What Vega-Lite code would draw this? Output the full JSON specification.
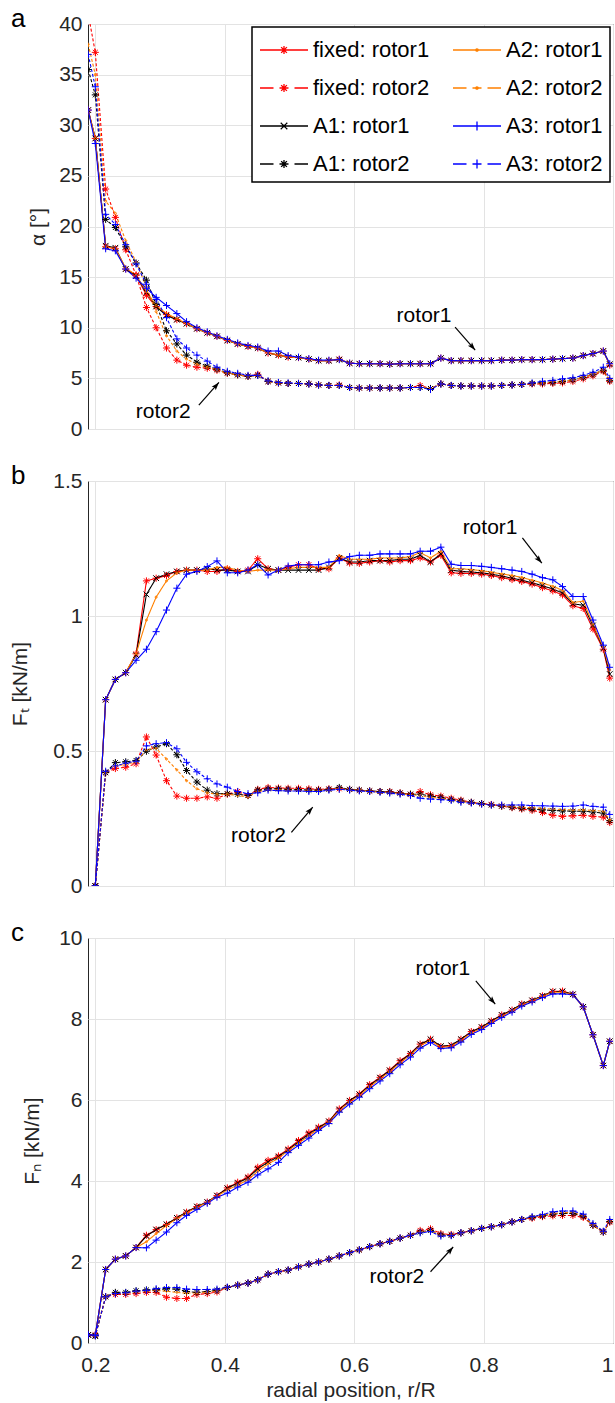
{
"$schema": "https://vega.github.io/schema/vega-lite/v6.json",
"background": "white",
"padding": {"left": 9, "top": 5, "right": 0, "bottom": 0},
"spacing": 22,
"resolve": {"legend": {"color": "independent"}},
"config": {
 "font": "Liberation Sans",
 "view": {"stroke": "#262626", "strokeWidth": 1},
 "axis": {"grid": true, "gridColor": "#e3e3e3", "gridWidth": 1, "domain": false, "ticks": false, "labelFontSize": 21, "titleFontSize": 21, "labelColor": "#262626", "titleColor": "#262626", "titleFontWeight": "normal", "labelPadding": 6, "labelFlush": false, "labelOverlap": false},
 "title": {"fontSize": 26, "fontWeight": "normal", "anchor": "start", "frame": "group", "color": "#000", "offset": -19}
},
"datasets": {
"d": [
{"p":"a","x":0.189,"F1":31.5,"F2":41,"A11":31.5,"A12":35.5,"A21":31.5,"A22":38,"A31":31.5,"A32":37},
{"p":"a","x":0.2,"F1":28.7,"F2":37.2,"A11":28.7,"A12":33,"A21":28.7,"A22":35,"A31":28.2,"A32":33.8},
{"p":"a","x":0.216,"F1":18,"F2":23.7,"A11":18.1,"A12":20.7,"A21":18,"A22":22.5,"A31":17.8,"A32":21.2},
{"p":"a","x":0.231,"F1":17.8,"F2":20.9,"A11":17.9,"A12":19.9,"A21":17.8,"A22":21.3,"A31":17.6,"A32":20.2},
{"p":"a","x":0.247,"F1":15.8,"F2":17.7,"A11":15.8,"A12":18,"A21":15.9,"A22":18.6,"A31":15.8,"A32":18.2},
{"p":"a","x":0.263,"F1":15.2,"F2":15.2,"A11":15.1,"A12":16.4,"A21":15.2,"A22":16.5,"A31":14.9,"A32":16.3},
{"p":"a","x":0.279,"F1":13.2,"F2":12,"A11":13.5,"A12":14.7,"A21":13.6,"A22":14,"A31":13.9,"A32":14.3},
{"p":"a","x":0.294,"F1":12.1,"F2":10,"A11":12.1,"A12":12.3,"A21":12.2,"A22":11.6,"A31":13,"A32":12.8},
{"p":"a","x":0.31,"F1":11.3,"F2":8,"A11":11.2,"A12":9.7,"A21":11.4,"A22":9.2,"A31":12.2,"A32":11},
{"p":"a","x":0.326,"F1":10.8,"F2":6.8,"A11":10.8,"A12":8.4,"A21":10.9,"A22":7.7,"A31":11.4,"A32":8.9},
{"p":"a","x":0.341,"F1":10.4,"F2":6.3,"A11":10.4,"A12":7.3,"A21":10.4,"A22":6.9,"A31":10.6,"A32":8},
{"p":"a","x":0.357,"F1":9.9,"F2":6.1,"A11":9.9,"A12":6.6,"A21":9.9,"A22":6.4,"A31":10,"A32":7.3},
{"p":"a","x":0.373,"F1":9.5,"F2":6,"A11":9.5,"A12":6.2,"A21":9.5,"A22":6.1,"A31":9.6,"A32":6.7},
{"p":"a","x":0.388,"F1":9.15,"F2":5.8,"A11":9.15,"A12":5.9,"A21":9.15,"A22":5.85,"A31":9.2,"A32":6.1},
{"p":"a","x":0.404,"F1":8.75,"F2":5.5,"A11":8.75,"A12":5.55,"A21":8.75,"A22":5.5,"A31":8.85,"A32":5.7},
{"p":"a","x":0.42,"F1":8.4,"F2":5.35,"A11":8.4,"A12":5.35,"A21":8.4,"A22":5.35,"A31":8.5,"A32":5.5},
{"p":"a","x":0.436,"F1":8.15,"F2":5.2,"A11":8.15,"A12":5.2,"A21":8.15,"A22":5.2,"A31":8.25,"A32":5.3},
{"p":"a","x":0.451,"F1":8,"F2":5.4,"A11":8,"A12":5.3,"A21":8,"A22":5.3,"A31":8.1,"A32":5.3},
{"p":"a","x":0.467,"F1":7.5,"F2":4.7,"A11":7.5,"A12":4.7,"A21":7.5,"A22":4.7,"A31":7.7,"A32":4.75},
{"p":"a","x":0.483,"F1":7.3,"F2":4.55,"A11":7.3,"A12":4.55,"A21":7.3,"A22":4.55,"A31":7.7,"A32":4.6},
{"p":"a","x":0.498,"F1":7.1,"F2":4.5,"A11":7.1,"A12":4.5,"A21":7.1,"A22":4.5,"A31":7.25,"A32":4.55},
{"p":"a","x":0.514,"F1":7.05,"F2":4.5,"A11":7.05,"A12":4.5,"A21":7.05,"A22":4.5,"A31":7.1,"A32":4.5},
{"p":"a","x":0.53,"F1":6.9,"F2":4.45,"A11":6.9,"A12":4.45,"A21":6.9,"A22":4.45,"A31":6.95,"A32":4.45},
{"p":"a","x":0.545,"F1":6.75,"F2":4.35,"A11":6.75,"A12":4.35,"A21":6.75,"A22":4.35,"A31":6.8,"A32":4.35},
{"p":"a","x":0.561,"F1":6.75,"F2":4.3,"A11":6.75,"A12":4.3,"A21":6.75,"A22":4.3,"A31":6.8,"A32":4.3},
{"p":"a","x":0.577,"F1":6.9,"F2":4.35,"A11":6.85,"A12":4.3,"A21":6.85,"A22":4.3,"A31":6.85,"A32":4.3},
{"p":"a","x":0.593,"F1":6.5,"F2":4.1,"A11":6.5,"A12":4.1,"A21":6.5,"A22":4.1,"A31":6.5,"A32":4.1},
{"p":"a","x":0.608,"F1":6.45,"F2":4.05,"A11":6.45,"A12":4.05,"A21":6.45,"A22":4.05,"A31":6.45,"A32":4.05},
{"p":"a","x":0.624,"F1":6.45,"F2":4.05,"A11":6.45,"A12":4.05,"A21":6.45,"A22":4.05,"A31":6.45,"A32":4.05},
{"p":"a","x":0.64,"F1":6.45,"F2":4.05,"A11":6.45,"A12":4.05,"A21":6.45,"A22":4.05,"A31":6.45,"A32":4.05},
{"p":"a","x":0.655,"F1":6.4,"F2":4.05,"A11":6.4,"A12":4.05,"A21":6.4,"A22":4.05,"A31":6.4,"A32":4.05},
{"p":"a","x":0.671,"F1":6.45,"F2":4.05,"A11":6.45,"A12":4.05,"A21":6.45,"A22":4.05,"A31":6.45,"A32":4.05},
{"p":"a","x":0.687,"F1":6.45,"F2":4.1,"A11":6.45,"A12":4.1,"A21":6.45,"A22":4.1,"A31":6.45,"A32":4.1},
{"p":"a","x":0.702,"F1":6.45,"F2":4.3,"A11":6.45,"A12":4.1,"A21":6.45,"A22":4.1,"A31":6.45,"A32":4.1},
{"p":"a","x":0.718,"F1":6.45,"F2":4,"A11":6.45,"A12":4,"A21":6.45,"A22":4,"A31":6.45,"A32":3.9},
{"p":"a","x":0.734,"F1":7,"F2":4.45,"A11":7,"A12":4.45,"A21":7,"A22":4.45,"A31":7,"A32":4.45},
{"p":"a","x":0.75,"F1":6.75,"F2":4.3,"A11":6.75,"A12":4.3,"A21":6.75,"A22":4.3,"A31":6.75,"A32":4.3},
{"p":"a","x":0.765,"F1":6.75,"F2":4.25,"A11":6.75,"A12":4.25,"A21":6.75,"A22":4.25,"A31":6.75,"A32":4.25},
{"p":"a","x":0.781,"F1":6.75,"F2":4.25,"A11":6.75,"A12":4.25,"A21":6.75,"A22":4.25,"A31":6.75,"A32":4.25},
{"p":"a","x":0.797,"F1":6.75,"F2":4.25,"A11":6.75,"A12":4.25,"A21":6.75,"A22":4.25,"A31":6.75,"A32":4.25},
{"p":"a","x":0.812,"F1":6.75,"F2":4.25,"A11":6.75,"A12":4.25,"A21":6.75,"A22":4.25,"A31":6.75,"A32":4.25},
{"p":"a","x":0.828,"F1":6.8,"F2":4.3,"A11":6.8,"A12":4.3,"A21":6.8,"A22":4.3,"A31":6.8,"A32":4.3},
{"p":"a","x":0.844,"F1":6.8,"F2":4.35,"A11":6.8,"A12":4.35,"A21":6.8,"A22":4.35,"A31":6.8,"A32":4.35},
{"p":"a","x":0.859,"F1":6.85,"F2":4.4,"A11":6.85,"A12":4.4,"A21":6.85,"A22":4.4,"A31":6.85,"A32":4.4},
{"p":"a","x":0.875,"F1":6.85,"F2":4.45,"A11":6.85,"A12":4.5,"A21":6.85,"A22":4.5,"A31":6.85,"A32":4.55},
{"p":"a","x":0.891,"F1":6.85,"F2":4.45,"A11":6.85,"A12":4.55,"A21":6.85,"A22":4.55,"A31":6.85,"A32":4.7},
{"p":"a","x":0.907,"F1":6.9,"F2":4.5,"A11":6.9,"A12":4.6,"A21":6.9,"A22":4.65,"A31":6.9,"A32":4.8},
{"p":"a","x":0.922,"F1":6.95,"F2":4.55,"A11":6.95,"A12":4.7,"A21":6.95,"A22":4.7,"A31":6.95,"A32":4.95},
{"p":"a","x":0.938,"F1":7,"F2":4.7,"A11":7,"A12":4.85,"A21":7,"A22":4.85,"A31":7,"A32":5.05},
{"p":"a","x":0.954,"F1":7.25,"F2":4.95,"A11":7.25,"A12":5.1,"A21":7.25,"A22":5.1,"A31":7.25,"A32":5.3},
{"p":"a","x":0.969,"F1":7.45,"F2":5.25,"A11":7.45,"A12":5.4,"A21":7.45,"A22":5.4,"A31":7.45,"A32":5.6},
{"p":"a","x":0.985,"F1":7.7,"F2":5.7,"A11":7.7,"A12":5.8,"A21":7.7,"A22":5.8,"A31":7.7,"A32":6.1},
{"p":"a","x":0.995,"F1":6.3,"F2":4.7,"A11":6.4,"A12":4.8,"A21":6.4,"A22":4.8,"A31":6.45,"A32":5},
{"p":"b","x":0.2,"F1":0,"F2":0,"A11":0,"A12":0,"A21":0,"A22":0,"A31":0,"A32":0},
{"p":"b","x":0.216,"F1":0.69,"F2":0.42,"A11":0.69,"A12":0.42,"A21":0.69,"A22":0.42,"A31":0.69,"A32":0.425},
{"p":"b","x":0.231,"F1":0.765,"F2":0.435,"A11":0.765,"A12":0.457,"A21":0.765,"A22":0.445,"A31":0.765,"A32":0.445},
{"p":"b","x":0.247,"F1":0.79,"F2":0.44,"A11":0.79,"A12":0.46,"A21":0.79,"A22":0.45,"A31":0.79,"A32":0.455},
{"p":"b","x":0.263,"F1":0.86,"F2":0.453,"A11":0.855,"A12":0.465,"A21":0.86,"A22":0.46,"A31":0.836,"A32":0.462},
{"p":"b","x":0.279,"F1":1.13,"F2":0.552,"A11":1.08,"A12":0.499,"A21":0.985,"A22":0.505,"A31":0.877,"A32":0.519},
{"p":"b","x":0.294,"F1":1.14,"F2":0.485,"A11":1.14,"A12":0.515,"A21":1.07,"A22":0.51,"A31":0.942,"A32":0.527},
{"p":"b","x":0.31,"F1":1.15,"F2":0.39,"A11":1.155,"A12":0.527,"A21":1.13,"A22":0.47,"A31":1.022,"A32":0.531},
{"p":"b","x":0.326,"F1":1.165,"F2":0.333,"A11":1.165,"A12":0.486,"A21":1.16,"A22":0.43,"A31":1.103,"A32":0.508},
{"p":"b","x":0.341,"F1":1.17,"F2":0.325,"A11":1.17,"A12":0.428,"A21":1.17,"A22":0.39,"A31":1.155,"A32":0.458},
{"p":"b","x":0.357,"F1":1.17,"F2":0.325,"A11":1.17,"A12":0.385,"A21":1.17,"A22":0.36,"A31":1.165,"A32":0.423},
{"p":"b","x":0.373,"F1":1.165,"F2":0.33,"A11":1.175,"A12":0.355,"A21":1.17,"A22":0.345,"A31":1.183,"A32":0.397},
{"p":"b","x":0.388,"F1":1.165,"F2":0.325,"A11":1.17,"A12":0.342,"A21":1.18,"A22":0.34,"A31":1.204,"A32":0.378},
{"p":"b","x":0.404,"F1":1.175,"F2":0.34,"A11":1.17,"A12":0.342,"A21":1.18,"A22":0.34,"A31":1.16,"A32":0.366},
{"p":"b","x":0.42,"F1":1.165,"F2":0.35,"A11":1.165,"A12":0.34,"A21":1.17,"A22":0.335,"A31":1.16,"A32":0.35},
{"p":"b","x":0.436,"F1":1.17,"F2":0.335,"A11":1.165,"A12":0.335,"A21":1.165,"A22":0.33,"A31":1.17,"A32":0.342},
{"p":"b","x":0.451,"F1":1.212,"F2":0.358,"A11":1.19,"A12":0.355,"A21":1.17,"A22":0.35,"A31":1.19,"A32":0.345},
{"p":"b","x":0.467,"F1":1.175,"F2":0.365,"A11":1.175,"A12":0.36,"A21":1.17,"A22":0.355,"A31":1.152,"A32":0.355},
{"p":"b","x":0.483,"F1":1.17,"F2":0.363,"A11":1.17,"A12":0.36,"A21":1.17,"A22":0.356,"A31":1.17,"A32":0.353},
{"p":"b","x":0.498,"F1":1.18,"F2":0.362,"A11":1.17,"A12":0.358,"A21":1.175,"A22":0.355,"A31":1.185,"A32":0.352},
{"p":"b","x":0.514,"F1":1.19,"F2":0.362,"A11":1.17,"A12":0.357,"A21":1.18,"A22":0.355,"A31":1.19,"A32":0.352},
{"p":"b","x":0.53,"F1":1.19,"F2":0.36,"A11":1.17,"A12":0.355,"A21":1.18,"A22":0.353,"A31":1.19,"A32":0.35},
{"p":"b","x":0.545,"F1":1.175,"F2":0.358,"A11":1.17,"A12":0.355,"A21":1.18,"A22":0.352,"A31":1.19,"A32":0.35},
{"p":"b","x":0.561,"F1":1.175,"F2":0.36,"A11":1.18,"A12":0.358,"A21":1.18,"A22":0.356,"A31":1.2,"A32":0.355},
{"p":"b","x":0.577,"F1":1.215,"F2":0.36,"A11":1.215,"A12":0.365,"A21":1.224,"A22":0.362,"A31":1.205,"A32":0.358},
{"p":"b","x":0.593,"F1":1.196,"F2":0.358,"A11":1.2,"A12":0.358,"A21":1.21,"A22":0.356,"A31":1.22,"A32":0.355},
{"p":"b","x":0.608,"F1":1.195,"F2":0.355,"A11":1.2,"A12":0.355,"A21":1.21,"A22":0.355,"A31":1.225,"A32":0.352},
{"p":"b","x":0.624,"F1":1.2,"F2":0.352,"A11":1.205,"A12":0.352,"A21":1.21,"A22":0.35,"A31":1.225,"A32":0.35},
{"p":"b","x":0.64,"F1":1.205,"F2":0.35,"A11":1.205,"A12":0.35,"A21":1.215,"A22":0.348,"A31":1.23,"A32":0.347},
{"p":"b","x":0.655,"F1":1.2,"F2":0.35,"A11":1.205,"A12":0.348,"A21":1.215,"A22":0.346,"A31":1.23,"A32":0.344},
{"p":"b","x":0.671,"F1":1.205,"F2":0.345,"A11":1.21,"A12":0.344,"A21":1.215,"A22":0.342,"A31":1.23,"A32":0.34},
{"p":"b","x":0.687,"F1":1.205,"F2":0.34,"A11":1.21,"A12":0.34,"A21":1.22,"A22":0.338,"A31":1.23,"A32":0.335},
{"p":"b","x":0.702,"F1":1.215,"F2":0.35,"A11":1.225,"A12":0.34,"A21":1.235,"A22":0.335,"A31":1.24,"A32":0.325},
{"p":"b","x":0.718,"F1":1.2,"F2":0.338,"A11":1.2,"A12":0.333,"A21":1.215,"A22":0.328,"A31":1.24,"A32":0.322},
{"p":"b","x":0.734,"F1":1.225,"F2":0.333,"A11":1.23,"A12":0.328,"A21":1.24,"A22":0.325,"A31":1.255,"A32":0.32},
{"p":"b","x":0.75,"F1":1.16,"F2":0.325,"A11":1.17,"A12":0.32,"A21":1.175,"A22":0.318,"A31":1.192,"A32":0.317},
{"p":"b","x":0.765,"F1":1.158,"F2":0.318,"A11":1.165,"A12":0.315,"A21":1.175,"A22":0.313,"A31":1.187,"A32":0.31},
{"p":"b","x":0.781,"F1":1.158,"F2":0.31,"A11":1.163,"A12":0.31,"A21":1.172,"A22":0.308,"A31":1.187,"A32":0.307},
{"p":"b","x":0.797,"F1":1.155,"F2":0.305,"A11":1.16,"A12":0.305,"A21":1.168,"A22":0.304,"A31":1.184,"A32":0.303},
{"p":"b","x":0.812,"F1":1.15,"F2":0.302,"A11":1.155,"A12":0.3,"A21":1.162,"A22":0.3,"A31":1.18,"A32":0.3},
{"p":"b","x":0.828,"F1":1.142,"F2":0.296,"A11":1.148,"A12":0.296,"A21":1.156,"A22":0.297,"A31":1.175,"A32":0.3},
{"p":"b","x":0.844,"F1":1.135,"F2":0.29,"A11":1.14,"A12":0.292,"A21":1.15,"A22":0.294,"A31":1.17,"A32":0.3},
{"p":"b","x":0.859,"F1":1.128,"F2":0.285,"A11":1.133,"A12":0.288,"A21":1.143,"A22":0.291,"A31":1.165,"A32":0.3},
{"p":"b","x":0.875,"F1":1.118,"F2":0.28,"A11":1.123,"A12":0.285,"A21":1.133,"A22":0.29,"A31":1.155,"A32":0.298},
{"p":"b","x":0.891,"F1":1.105,"F2":0.272,"A11":1.112,"A12":0.282,"A21":1.122,"A22":0.287,"A31":1.142,"A32":0.297},
{"p":"b","x":0.907,"F1":1.093,"F2":0.262,"A11":1.1,"A12":0.28,"A21":1.11,"A22":0.285,"A31":1.134,"A32":0.296},
{"p":"b","x":0.922,"F1":1.078,"F2":0.258,"A11":1.085,"A12":0.278,"A21":1.095,"A22":0.283,"A31":1.109,"A32":0.295},
{"p":"b","x":0.938,"F1":1.038,"F2":0.26,"A11":1.045,"A12":0.277,"A21":1.05,"A22":0.282,"A31":1.072,"A32":0.296},
{"p":"b","x":0.954,"F1":1.028,"F2":0.262,"A11":1.04,"A12":0.277,"A21":1.055,"A22":0.282,"A31":1.072,"A32":0.3},
{"p":"b","x":0.969,"F1":0.952,"F2":0.258,"A11":0.965,"A12":0.274,"A21":0.97,"A22":0.28,"A31":0.985,"A32":0.295},
{"p":"b","x":0.985,"F1":0.877,"F2":0.255,"A11":0.88,"A12":0.27,"A21":0.885,"A22":0.277,"A31":0.892,"A32":0.292},
{"p":"b","x":0.995,"F1":0.77,"F2":0.235,"A11":0.785,"A12":0.242,"A21":0.8,"A22":0.245,"A31":0.81,"A32":0.265},
{"p":"c","x":0.189,"F1":0.2,"F2":0.2,"A11":0.2,"A12":0.2,"A21":0.2,"A22":0.2,"A31":0.2,"A32":0.2},
{"p":"c","x":0.2,"F1":0.2,"F2":0.18,"A11":0.17,"A12":0.18,"A21":0.2,"A22":0.18,"A31":0.2,"A32":0.18},
{"p":"c","x":0.216,"F1":1.815,"F2":1.14,"A11":1.815,"A12":1.14,"A21":1.815,"A22":1.14,"A31":1.815,"A32":1.14},
{"p":"c","x":0.231,"F1":2.07,"F2":1.2,"A11":2.07,"A12":1.25,"A21":2.07,"A22":1.22,"A31":2.07,"A32":1.22},
{"p":"c","x":0.247,"F1":2.15,"F2":1.2,"A11":2.15,"A12":1.25,"A21":2.15,"A22":1.23,"A31":2.15,"A32":1.24},
{"p":"c","x":0.263,"F1":2.357,"F2":1.22,"A11":2.357,"A12":1.29,"A21":2.357,"A22":1.27,"A31":2.357,"A32":1.28},
{"p":"c","x":0.279,"F1":2.66,"F2":1.25,"A11":2.64,"A12":1.31,"A21":2.5,"A22":1.29,"A31":2.35,"A32":1.3},
{"p":"c","x":0.294,"F1":2.8,"F2":1.25,"A11":2.8,"A12":1.31,"A21":2.7,"A22":1.3,"A31":2.54,"A32":1.34},
{"p":"c","x":0.31,"F1":2.93,"F2":1.13,"A11":2.93,"A12":1.34,"A21":2.9,"A22":1.28,"A31":2.74,"A32":1.37},
{"p":"c","x":0.326,"F1":3.09,"F2":1.1,"A11":3.09,"A12":1.33,"A21":3.07,"A22":1.25,"A31":2.97,"A32":1.37},
{"p":"c","x":0.341,"F1":3.23,"F2":1.1,"A11":3.23,"A12":1.27,"A21":3.21,"A22":1.23,"A31":3.15,"A32":1.33},
{"p":"c","x":0.357,"F1":3.37,"F2":1.2,"A11":3.37,"A12":1.25,"A21":3.35,"A22":1.24,"A31":3.3,"A32":1.32},
{"p":"c","x":0.373,"F1":3.48,"F2":1.22,"A11":3.48,"A12":1.27,"A21":3.47,"A22":1.26,"A31":3.45,"A32":1.32},
{"p":"c","x":0.388,"F1":3.64,"F2":1.26,"A11":3.64,"A12":1.3,"A21":3.63,"A22":1.29,"A31":3.6,"A32":1.33},
{"p":"c","x":0.404,"F1":3.83,"F2":1.37,"A11":3.82,"A12":1.37,"A21":3.78,"A22":1.37,"A31":3.7,"A32":1.38},
{"p":"c","x":0.42,"F1":3.97,"F2":1.43,"A11":3.95,"A12":1.43,"A21":3.9,"A22":1.43,"A31":3.85,"A32":1.43},
{"p":"c","x":0.436,"F1":4.1,"F2":1.48,"A11":4.08,"A12":1.48,"A21":4.03,"A22":1.48,"A31":3.97,"A32":1.48},
{"p":"c","x":0.451,"F1":4.34,"F2":1.56,"A11":4.3,"A12":1.56,"A21":4.24,"A22":1.56,"A31":4.15,"A32":1.56},
{"p":"c","x":0.467,"F1":4.51,"F2":1.7,"A11":4.47,"A12":1.7,"A21":4.42,"A22":1.7,"A31":4.3,"A32":1.7},
{"p":"c","x":0.483,"F1":4.62,"F2":1.76,"A11":4.6,"A12":1.76,"A21":4.56,"A22":1.76,"A31":4.46,"A32":1.76},
{"p":"c","x":0.498,"F1":4.79,"F2":1.8,"A11":4.77,"A12":1.8,"A21":4.75,"A22":1.8,"A31":4.7,"A32":1.8},
{"p":"c","x":0.514,"F1":5,"F2":1.88,"A11":4.97,"A12":1.88,"A21":4.93,"A22":1.88,"A31":4.88,"A32":1.88},
{"p":"c","x":0.53,"F1":5.19,"F2":1.95,"A11":5.16,"A12":1.95,"A21":5.12,"A22":1.95,"A31":5.06,"A32":1.95},
{"p":"c","x":0.545,"F1":5.33,"F2":2,"A11":5.31,"A12":2,"A21":5.28,"A22":2,"A31":5.25,"A32":2},
{"p":"c","x":0.561,"F1":5.48,"F2":2.07,"A11":5.47,"A12":2.07,"A21":5.45,"A22":2.07,"A31":5.42,"A32":2.07},
{"p":"c","x":0.577,"F1":5.78,"F2":2.15,"A11":5.76,"A12":2.15,"A21":5.74,"A22":2.15,"A31":5.7,"A32":2.15},
{"p":"c","x":0.593,"F1":5.99,"F2":2.23,"A11":5.98,"A12":2.23,"A21":5.95,"A22":2.23,"A31":5.9,"A32":2.23},
{"p":"c","x":0.608,"F1":6.15,"F2":2.3,"A11":6.14,"A12":2.3,"A21":6.11,"A22":2.3,"A31":6.07,"A32":2.3},
{"p":"c","x":0.624,"F1":6.38,"F2":2.38,"A11":6.36,"A12":2.38,"A21":6.33,"A22":2.38,"A31":6.28,"A32":2.38},
{"p":"c","x":0.64,"F1":6.56,"F2":2.45,"A11":6.55,"A12":2.45,"A21":6.52,"A22":2.45,"A31":6.47,"A32":2.45},
{"p":"c","x":0.655,"F1":6.74,"F2":2.51,"A11":6.73,"A12":2.51,"A21":6.7,"A22":2.51,"A31":6.65,"A32":2.51},
{"p":"c","x":0.671,"F1":6.97,"F2":2.59,"A11":6.95,"A12":2.59,"A21":6.92,"A22":2.59,"A31":6.87,"A32":2.59},
{"p":"c","x":0.687,"F1":7.15,"F2":2.66,"A11":7.14,"A12":2.66,"A21":7.11,"A22":2.66,"A31":7.06,"A32":2.66},
{"p":"c","x":0.702,"F1":7.38,"F2":2.78,"A11":7.37,"A12":2.74,"A21":7.34,"A22":2.74,"A31":7.28,"A32":2.72},
{"p":"c","x":0.718,"F1":7.5,"F2":2.82,"A11":7.5,"A12":2.78,"A21":7.47,"A22":2.77,"A31":7.42,"A32":2.75},
{"p":"c","x":0.734,"F1":7.32,"F2":2.7,"A11":7.33,"A12":2.67,"A21":7.3,"A22":2.66,"A31":7.27,"A32":2.64},
{"p":"c","x":0.75,"F1":7.34,"F2":2.68,"A11":7.35,"A12":2.66,"A21":7.32,"A22":2.66,"A31":7.29,"A32":2.65},
{"p":"c","x":0.765,"F1":7.5,"F2":2.72,"A11":7.5,"A12":2.72,"A21":7.47,"A22":2.72,"A31":7.43,"A32":2.72},
{"p":"c","x":0.781,"F1":7.69,"F2":2.77,"A11":7.68,"A12":2.77,"A21":7.66,"A22":2.77,"A31":7.62,"A32":2.77},
{"p":"c","x":0.797,"F1":7.8,"F2":2.83,"A11":7.8,"A12":2.83,"A21":7.77,"A22":2.83,"A31":7.74,"A32":2.83},
{"p":"c","x":0.812,"F1":7.95,"F2":2.87,"A11":7.95,"A12":2.87,"A21":7.92,"A22":2.87,"A31":7.89,"A32":2.87},
{"p":"c","x":0.828,"F1":8.1,"F2":2.92,"A11":8.1,"A12":2.92,"A21":8.07,"A22":2.92,"A31":8.04,"A32":2.92},
{"p":"c","x":0.844,"F1":8.22,"F2":2.99,"A11":8.22,"A12":2.99,"A21":8.2,"A22":2.99,"A31":8.17,"A32":2.99},
{"p":"c","x":0.859,"F1":8.37,"F2":3.05,"A11":8.37,"A12":3.05,"A21":8.35,"A22":3.05,"A31":8.32,"A32":3.05},
{"p":"c","x":0.875,"F1":8.46,"F2":3.08,"A11":8.46,"A12":3.1,"A21":8.44,"A22":3.1,"A31":8.42,"A32":3.12},
{"p":"c","x":0.891,"F1":8.57,"F2":3.12,"A11":8.57,"A12":3.14,"A21":8.56,"A22":3.15,"A31":8.53,"A32":3.17},
{"p":"c","x":0.907,"F1":8.68,"F2":3.14,"A11":8.68,"A12":3.18,"A21":8.66,"A22":3.2,"A31":8.62,"A32":3.24},
{"p":"c","x":0.922,"F1":8.69,"F2":3.15,"A11":8.68,"A12":3.2,"A21":8.66,"A22":3.22,"A31":8.62,"A32":3.26},
{"p":"c","x":0.938,"F1":8.61,"F2":3.15,"A11":8.61,"A12":3.2,"A21":8.6,"A22":3.22,"A31":8.6,"A32":3.26},
{"p":"c","x":0.954,"F1":8.3,"F2":3.1,"A11":8.3,"A12":3.13,"A21":8.3,"A22":3.15,"A31":8.3,"A32":3.18},
{"p":"c","x":0.969,"F1":7.61,"F2":2.91,"A11":7.61,"A12":2.91,"A21":7.61,"A22":2.91,"A31":7.61,"A32":2.95},
{"p":"c","x":0.985,"F1":6.85,"F2":2.74,"A11":6.85,"A12":2.74,"A21":6.85,"A22":2.74,"A31":6.85,"A32":2.76},
{"p":"c","x":0.995,"F1":7.45,"F2":2.98,"A11":7.45,"A12":3,"A21":7.45,"A22":3,"A31":7.45,"A32":3.05}
],
"ann": [
{"p":"a","t":"rotor1","tx":0.708,"ty":11.2,"x1":0.756,"y1":10.07,"x2":0.787,"y2":7.8},
{"p":"a","t":"rotor2","tx":0.305,"ty":1.7,"x1":0.36,"y1":2.35,"x2":0.391,"y2":4.6},
{"p":"b","t":"rotor1","tx":0.81,"ty":1.326,"x1":0.86,"y1":1.289,"x2":0.89,"y2":1.196},
{"p":"b","t":"rotor2","tx":0.452,"ty":0.187,"x1":0.503,"y1":0.199,"x2":0.536,"y2":0.292},
{"p":"c","t":"rotor1","tx":0.737,"ty":9.23,"x1":0.788,"y1":8.94,"x2":0.818,"y2":8.37},
{"p":"c","t":"rotor2","tx":0.666,"ty":1.63,"x1":0.718,"y1":1.76,"x2":0.753,"y2":2.37}
]
},
"vconcat": [
{
 "width": 525, "height": 405,
 "title": {"text": "a", "dx": -77},
 "layer": [
  {"data": {"name": "d"}, "transform": [{"filter": "datum.p==='a'"}, {"fold": ["F1","F2","A11","A12","A21","A22","A31","A32"], "as": ["s","v"]}],
   "mark": {"type": "line", "clip": true, "strokeWidth": 1.1},
   "encoding": {
    "x": {"field": "x", "type": "quantitative", "title": null, "scale": {"domain": [0.1887, 1], "nice": false, "zero": false}, "axis": {"values": [0.2,0.4,0.6,0.8,1], "labels": false}},
    "y": {"field": "v", "type": "quantitative", "title": "α [°]", "scale": {"domain": [0, 40], "nice": false}, "axis": {"values": [0,5,10,15,20,25,30,35,40], "format": "~r", "titlePadding": 10}},
    "color": {"field": "s", "type": "nominal", "scale": {"domain": ["F1","F2","A11","A12","A21","A22","A31","A32"], "range": ["#ff0000","#ff0000","#000000","#000000","#ff8000","#ff8000","#0000ff","#0000ff"]},
      "legend": {"title": null, "orient": "top-right", "offset": 3, "columns": 2, "symbolType": "stroke", "symbolSize": 900, "symbolStrokeWidth": 1.3, "labelFontSize": 22, "labelColor": "#000", "labelOffset": 22, "labelLimit": 300, "rowPadding": 11, "columnPadding": 20, "padding": 7, "strokeColor": "#000", "fillColor": "#fff",
       "labelExpr": "datum.label==='F1'?'fixed: rotor1':datum.label==='F2'?'fixed: rotor2':datum.label==='A11'?'A1: rotor1':datum.label==='A12'?'A1: rotor2':datum.label==='A21'?'A2: rotor1':datum.label==='A22'?'A2: rotor2':datum.label==='A31'?'A3: rotor1':'A3: rotor2'",
       "encode": {"symbols": {"update": {"shape": {"signal": "datum.value==='F1'?'M-1,0L2.2,0M0.33,0L0.87,0M0.6,-0.27L0.6,0.27M0.41,-0.19L0.79,0.19M0.41,0.19L0.79,-0.19':datum.value==='F2'?'M-1,0L-0.1,0M0.3,0L0.9,0M1.3,0L2.2,0M0.6,-0.27L0.6,0.27M0.41,-0.19L0.79,0.19M0.41,0.19L0.79,-0.19':datum.value==='A11'?'M-1,0L2.2,0M0.38,-0.22L0.82,0.22M0.38,0.22L0.82,-0.22':datum.value==='A12'?'M-1,0L-0.1,0M0.3,0L0.9,0M1.3,0L2.2,0M0.6,-0.27L0.6,0.27M0.41,-0.19L0.79,0.19M0.41,0.19L0.79,-0.19':datum.value==='A21'?'M-1,0L2.2,0M0.68,0A0.08,0.08 0 1,1 0.52,0A0.08,0.08 0 1,1 0.68,0':datum.value==='A22'?'M-1,0L-0.1,0M0.3,0L0.9,0M1.3,0L2.2,0M0.68,0A0.08,0.08 0 1,1 0.52,0A0.08,0.08 0 1,1 0.68,0':datum.value==='A31'?'M-1,0L2.2,0M0.6,-0.3L0.6,0.3':'M-1,0L-0.1,0M0.3,0L0.9,0M1.3,0L2.2,0M0.6,-0.3L0.6,0.3'"}, "strokeDash": {"value": [1,0]}, "fill": {"value": "transparent"}}}, "legend": {"update": {"strokeWidth": {"value": 1.5}}}}}},
    "strokeDash": {"field": "s", "type": "nominal", "scale": {"domain": ["F1","F2","A11","A12","A21","A22","A31","A32"], "range": [[1,0],[3,2],[1,0],[3,2],[1,0],[3,2],[1,0],[3,2]]}, "legend": null}
   }},
  {"data": {"name": "d"}, "transform": [{"filter": "datum.p==='a'"}, {"fold": ["F1","F2","A11","A12","A21","A22","A31","A32"], "as": ["s","v"]}],
   "mark": {"type": "point", "clip": true, "filled": false, "size": 50, "strokeWidth": 1, "opacity": 1},
   "encoding": {
    "x": {"field": "x", "type": "quantitative", "title": null, "scale": {"domain": [0.1887, 1], "nice": false, "zero": false}},
    "y": {"field": "v", "type": "quantitative", "title": "α [°]", "scale": {"domain": [0, 40], "nice": false}},
    "color": {"field": "s", "type": "nominal", "scale": {"domain": ["F1","F2","A11","A12","A21","A22","A31","A32"], "range": ["#ff0000","#ff0000","#000000","#000000","#ff8000","#ff8000","#0000ff","#0000ff"]}},
    "shape": {"field": "s", "type": "nominal", "scale": {"domain": ["F1","F2","A11","A12","A21","A22","A31","A32"], "range": ["M-1,0L1,0M0,-1L0,1M-0.7,-0.7L0.7,0.7M-0.7,0.7L0.7,-0.7","M-1,0L1,0M0,-1L0,1M-0.7,-0.7L0.7,0.7M-0.7,0.7L0.7,-0.7","M-0.8,-0.8L0.8,0.8M-0.8,0.8L0.8,-0.8","M-1,0L1,0M0,-1L0,1M-0.7,-0.7L0.7,0.7M-0.7,0.7L0.7,-0.7","M0.3,0A0.3,0.3 0 1,1 -0.3,0A0.3,0.3 0 1,1 0.3,0","M0.3,0A0.3,0.3 0 1,1 -0.3,0A0.3,0.3 0 1,1 0.3,0","M-1,0L1,0M0,-1L0,1","M-1,0L1,0M0,-1L0,1"]}, "legend": null}
   }},
  {"data": {"name": "ann"}, "transform": [{"filter": "datum.p==='a'"}],
   "mark": {"type": "text", "fontSize": 21, "align": "center", "baseline": "middle", "color": "#000"},
   "encoding": {"x": {"field": "tx", "type": "quantitative", "title": null, "scale": {"domain": [0.1887, 1], "nice": false, "zero": false}}, "y": {"field": "ty", "type": "quantitative", "title": "α [°]", "scale": {"domain": [0, 40], "nice": false}}, "text": {"field": "t"}}},
  {"data": {"name": "ann"}, "transform": [{"filter": "datum.p==='a'"}],
   "mark": {"type": "rule", "strokeWidth": 1.2, "color": "#000"},
   "encoding": {"x": {"field": "x1", "type": "quantitative", "title": null, "scale": {"domain": [0.1887, 1], "nice": false, "zero": false}}, "y": {"field": "y1", "type": "quantitative", "title": "α [°]", "scale": {"domain": [0, 40], "nice": false}}, "x2": {"field": "x2"}, "y2": {"field": "y2"}}},
  {"data": {"name": "ann"}, "transform": [{"filter": "datum.p==='a'"}],
   "mark": {"type": "point", "filled": true, "color": "#000", "size": 100, "strokeWidth": 0, "opacity": 1, "shape": "M0,0L0.55,1.6L0,1.25L-0.55,1.6Z"},
   "encoding": {"x": {"field": "x2", "type": "quantitative", "title": null, "scale": {"domain": [0.1887, 1], "nice": false, "zero": false}}, "y": {"field": "y2", "type": "quantitative", "title": "α [°]", "scale": {"domain": [0, 40], "nice": false}}, "angle": {"field": "t", "type": "nominal", "scale": {"domain": ["rotor1","rotor2"], "range": [139, 41]}, "legend": null}}}
 ]
},
{
 "width": 525, "height": 405,
 "title": {"text": "b", "dx": -77},
 "layer": [
  {"data": {"name": "d"}, "transform": [{"filter": "datum.p==='b'"}, {"fold": ["F1","F2","A11","A12","A21","A22","A31","A32"], "as": ["s","v"]}],
   "mark": {"type": "line", "clip": true, "strokeWidth": 1.1},
   "encoding": {
    "x": {"field": "x", "type": "quantitative", "title": null, "scale": {"domain": [0.1887, 1], "nice": false, "zero": false}, "axis": {"values": [0.2,0.4,0.6,0.8,1], "labels": false}},
    "y": {"field": "v", "type": "quantitative", "title": "Fₜ [kN/m]", "scale": {"domain": [0, 1.5], "nice": false}, "axis": {"values": [0,0.5,1,1.5], "format": "~r", "titlePadding": 22}},
    "color": {"field": "s", "type": "nominal", "scale": {"domain": ["F1","F2","A11","A12","A21","A22","A31","A32"], "range": ["#ff0000","#ff0000","#000000","#000000","#ff8000","#ff8000","#0000ff","#0000ff"]}, "legend": null},
    "strokeDash": {"field": "s", "type": "nominal", "scale": {"domain": ["F1","F2","A11","A12","A21","A22","A31","A32"], "range": [[1,0],[3,2],[1,0],[3,2],[1,0],[3,2],[1,0],[3,2]]}, "legend": null}
   }},
  {"data": {"name": "d"}, "transform": [{"filter": "datum.p==='b'"}, {"fold": ["F1","F2","A11","A12","A21","A22","A31","A32"], "as": ["s","v"]}],
   "mark": {"type": "point", "clip": true, "filled": false, "size": 50, "strokeWidth": 1, "opacity": 1},
   "encoding": {
    "x": {"field": "x", "type": "quantitative", "title": null, "scale": {"domain": [0.1887, 1], "nice": false, "zero": false}},
    "y": {"field": "v", "type": "quantitative", "title": "Fₜ [kN/m]", "scale": {"domain": [0, 1.5], "nice": false}},
    "color": {"field": "s", "type": "nominal", "scale": {"domain": ["F1","F2","A11","A12","A21","A22","A31","A32"], "range": ["#ff0000","#ff0000","#000000","#000000","#ff8000","#ff8000","#0000ff","#0000ff"]}, "legend": null},
    "shape": {"field": "s", "type": "nominal", "scale": {"domain": ["F1","F2","A11","A12","A21","A22","A31","A32"], "range": ["M-1,0L1,0M0,-1L0,1M-0.7,-0.7L0.7,0.7M-0.7,0.7L0.7,-0.7","M-1,0L1,0M0,-1L0,1M-0.7,-0.7L0.7,0.7M-0.7,0.7L0.7,-0.7","M-0.8,-0.8L0.8,0.8M-0.8,0.8L0.8,-0.8","M-1,0L1,0M0,-1L0,1M-0.7,-0.7L0.7,0.7M-0.7,0.7L0.7,-0.7","M0.3,0A0.3,0.3 0 1,1 -0.3,0A0.3,0.3 0 1,1 0.3,0","M0.3,0A0.3,0.3 0 1,1 -0.3,0A0.3,0.3 0 1,1 0.3,0","M-1,0L1,0M0,-1L0,1","M-1,0L1,0M0,-1L0,1"]}, "legend": null}
   }},
  {"data": {"name": "ann"}, "transform": [{"filter": "datum.p==='b'"}],
   "mark": {"type": "text", "fontSize": 21, "align": "center", "baseline": "middle", "color": "#000"},
   "encoding": {"x": {"field": "tx", "type": "quantitative", "title": null, "scale": {"domain": [0.1887, 1], "nice": false, "zero": false}}, "y": {"field": "ty", "type": "quantitative", "title": "Fₜ [kN/m]", "scale": {"domain": [0, 1.5], "nice": false}}, "text": {"field": "t"}}},
  {"data": {"name": "ann"}, "transform": [{"filter": "datum.p==='b'"}],
   "mark": {"type": "rule", "strokeWidth": 1.2, "color": "#000"},
   "encoding": {"x": {"field": "x1", "type": "quantitative", "title": null, "scale": {"domain": [0.1887, 1], "nice": false, "zero": false}}, "y": {"field": "y1", "type": "quantitative", "title": "Fₜ [kN/m]", "scale": {"domain": [0, 1.5], "nice": false}}, "x2": {"field": "x2"}, "y2": {"field": "y2"}}},
  {"data": {"name": "ann"}, "transform": [{"filter": "datum.p==='b'"}],
   "mark": {"type": "point", "filled": true, "color": "#000", "size": 100, "strokeWidth": 0, "opacity": 1, "shape": "M0,0L0.55,1.6L0,1.25L-0.55,1.6Z"},
   "encoding": {"x": {"field": "x2", "type": "quantitative", "title": null, "scale": {"domain": [0.1887, 1], "nice": false, "zero": false}}, "y": {"field": "y2", "type": "quantitative", "title": "Fₜ [kN/m]", "scale": {"domain": [0, 1.5], "nice": false}}, "angle": {"field": "t", "type": "nominal", "scale": {"domain": ["rotor1","rotor2"], "range": [142, 41]}, "legend": null}}}
 ]
},
{
 "width": 525, "height": 405,
 "title": {"text": "c", "dx": -77},
 "layer": [
  {"data": {"name": "d"}, "transform": [{"filter": "datum.p==='c'"}, {"fold": ["F1","F2","A11","A12","A21","A22","A31","A32"], "as": ["s","v"]}],
   "mark": {"type": "line", "clip": true, "strokeWidth": 1.1},
   "encoding": {
    "x": {"field": "x", "type": "quantitative", "title": "radial position, r/R", "scale": {"domain": [0.1887, 1], "nice": false, "zero": false}, "axis": {"values": [0.2,0.4,0.6,0.8,1], "format": "~r", "labelPadding": 11, "titlePadding": 4, "labelFlush": true}},
    "y": {"field": "v", "type": "quantitative", "title": "Fₙ [kN/m]", "scale": {"domain": [0, 10], "nice": false}, "axis": {"values": [0,2,4,6,8,10], "format": "~r", "titlePadding": 16}},
    "color": {"field": "s", "type": "nominal", "scale": {"domain": ["F1","F2","A11","A12","A21","A22","A31","A32"], "range": ["#ff0000","#ff0000","#000000","#000000","#ff8000","#ff8000","#0000ff","#0000ff"]}, "legend": null},
    "strokeDash": {"field": "s", "type": "nominal", "scale": {"domain": ["F1","F2","A11","A12","A21","A22","A31","A32"], "range": [[1,0],[3,2],[1,0],[3,2],[1,0],[3,2],[1,0],[3,2]]}, "legend": null}
   }},
  {"data": {"name": "d"}, "transform": [{"filter": "datum.p==='c'"}, {"fold": ["F1","F2","A11","A12","A21","A22","A31","A32"], "as": ["s","v"]}],
   "mark": {"type": "point", "clip": true, "filled": false, "size": 50, "strokeWidth": 1, "opacity": 1},
   "encoding": {
    "x": {"field": "x", "type": "quantitative", "title": "radial position, r/R", "scale": {"domain": [0.1887, 1], "nice": false, "zero": false}},
    "y": {"field": "v", "type": "quantitative", "title": "Fₙ [kN/m]", "scale": {"domain": [0, 10], "nice": false}},
    "color": {"field": "s", "type": "nominal", "scale": {"domain": ["F1","F2","A11","A12","A21","A22","A31","A32"], "range": ["#ff0000","#ff0000","#000000","#000000","#ff8000","#ff8000","#0000ff","#0000ff"]}, "legend": null},
    "shape": {"field": "s", "type": "nominal", "scale": {"domain": ["F1","F2","A11","A12","A21","A22","A31","A32"], "range": ["M-1,0L1,0M0,-1L0,1M-0.7,-0.7L0.7,0.7M-0.7,0.7L0.7,-0.7","M-1,0L1,0M0,-1L0,1M-0.7,-0.7L0.7,0.7M-0.7,0.7L0.7,-0.7","M-0.8,-0.8L0.8,0.8M-0.8,0.8L0.8,-0.8","M-1,0L1,0M0,-1L0,1M-0.7,-0.7L0.7,0.7M-0.7,0.7L0.7,-0.7","M0.3,0A0.3,0.3 0 1,1 -0.3,0A0.3,0.3 0 1,1 0.3,0","M0.3,0A0.3,0.3 0 1,1 -0.3,0A0.3,0.3 0 1,1 0.3,0","M-1,0L1,0M0,-1L0,1","M-1,0L1,0M0,-1L0,1"]}, "legend": null}
   }},
  {"data": {"name": "ann"}, "transform": [{"filter": "datum.p==='c'"}],
   "mark": {"type": "text", "fontSize": 21, "align": "center", "baseline": "middle", "color": "#000"},
   "encoding": {"x": {"field": "tx", "type": "quantitative", "title": "radial position, r/R", "scale": {"domain": [0.1887, 1], "nice": false, "zero": false}}, "y": {"field": "ty", "type": "quantitative", "title": "Fₙ [kN/m]", "scale": {"domain": [0, 10], "nice": false}}, "text": {"field": "t"}}},
  {"data": {"name": "ann"}, "transform": [{"filter": "datum.p==='c'"}],
   "mark": {"type": "rule", "strokeWidth": 1.2, "color": "#000"},
   "encoding": {"x": {"field": "x1", "type": "quantitative", "title": "radial position, r/R", "scale": {"domain": [0.1887, 1], "nice": false, "zero": false}}, "y": {"field": "y1", "type": "quantitative", "title": "Fₙ [kN/m]", "scale": {"domain": [0, 10], "nice": false}}, "x2": {"field": "x2"}, "y2": {"field": "y2"}}},
  {"data": {"name": "ann"}, "transform": [{"filter": "datum.p==='c'"}],
   "mark": {"type": "point", "filled": true, "color": "#000", "size": 100, "strokeWidth": 0, "opacity": 1, "shape": "M0,0L0.55,1.6L0,1.25L-0.55,1.6Z"},
   "encoding": {"x": {"field": "x2", "type": "quantitative", "title": "radial position, r/R", "scale": {"domain": [0.1887, 1], "nice": false, "zero": false}}, "y": {"field": "y2", "type": "quantitative", "title": "Fₙ [kN/m]", "scale": {"domain": [0, 10], "nice": false}}, "angle": {"field": "t", "type": "nominal", "scale": {"domain": ["rotor1","rotor2"], "range": [140, 42]}, "legend": null}}}
 ]
}
]
}
